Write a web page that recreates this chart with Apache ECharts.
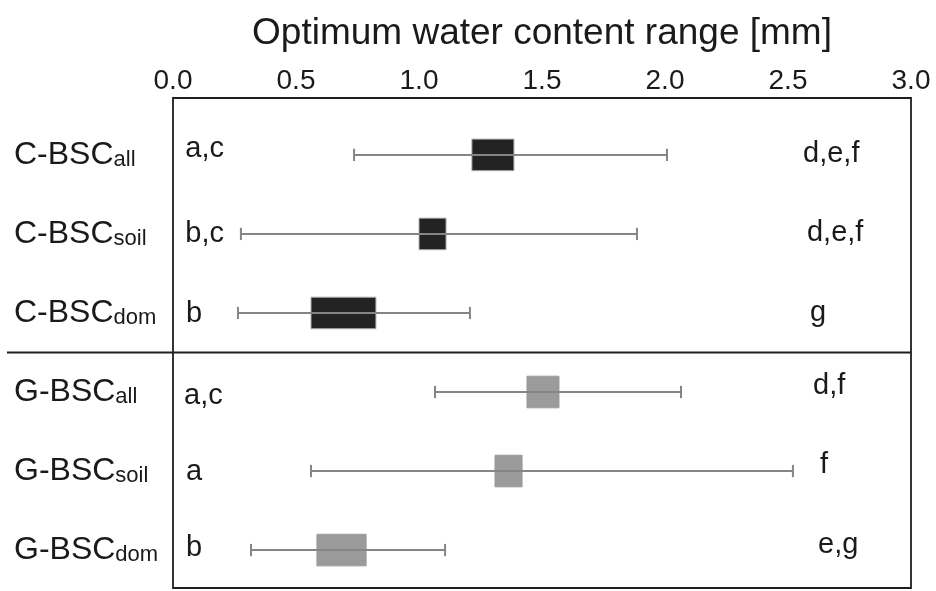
<!DOCTYPE html>
<html>
<head>
<meta charset="utf-8">
<script src="https://cdn.jsdelivr.net/npm/echarts@6/dist/echarts.min.js"></script>
<style>
html,body{margin:0;padding:0;background:#fff;}
#chart{width:936px;height:591px;}
</style>
</head>
<body>
<div id="chart"></div>
<script>
// ---- data ----
const rowMain = ['C-BSC','C-BSC','C-BSC','G-BSC','G-BSC','G-BSC'];
const rowSub  = ['all','soil','dom','all','soil','dom'];
const rowGroup = ['C','C','C','G','G','G'];
const whiskerMin = [0.736, 0.276, 0.264, 1.065, 0.561, 0.317];
const boxLow     = [1.215, 1.000, 0.561, 1.439, 1.309, 0.585];
const boxHigh    = [1.386, 1.110, 0.825, 1.569, 1.419, 0.785];
const whiskerMax = [2.008, 1.886, 1.207, 2.065, 2.520, 1.106];
const leftLetters  = ['a,c','b,c','b','a,c','a','b'];
const rightLetters = ['d,e,f','d,e,f','g','d,f','f','e,g'];
const xTicks = [0, 0.5, 1, 1.5, 2, 2.5, 3];

// ---- layout / style ----
const leftLetterX = [0.050, 0.050, 0.053, 0.045, 0.053, 0.053];
const leftLetterDy = [-0.07, 0, 0.01, 0.05, 0.01, -0.03];
const rightLetterX = [2.561, 2.577, 2.589, 2.602, 2.630, 2.622];
const rightLetterDy = [-0.01, -0.01, 0, -0.08, -0.08, -0.06];
const groupColor = {C: '#232323', G: '#9b9b9b'};
const groupStroke = {C: '#b0b0b0', G: '#9b9b9b'};
const FONT = "'Liberation Sans', Arial, Helvetica, sans-serif";

const boxData = rowMain.map((_, i) => [i, whiskerMin[i], boxLow[i], boxHigh[i], whiskerMax[i]]);
const letterData = [];
leftLetters.forEach((t, i) => letterData.push([leftLetterX[i], i + leftLetterDy[i], t]));
rightLetters.forEach((t, i) => letterData.push([rightLetterX[i], i + rightLetterDy[i], t]));

const chart = echarts.init(document.getElementById('chart'), null, {renderer: 'canvas'});
chart.setOption({
  animation: false,
  backgroundColor: '#fff',
  grid: {left: 173, right: 25, top: 98, bottom: 3, show: true, borderColor: '#1e1e1e', borderWidth: 1.8, containLabel: false},
  xAxis: {
    type: 'value', position: 'top', min: 0, max: 3, interval: 0.5,
    name: 'Optimum water content range [mm]', nameLocation: 'middle', nameGap: 46,
    nameTextStyle: {fontFamily: FONT, fontSize: 37, color: '#1a1a1a'},
    axisLine: {show: false}, axisTick: {show: false}, splitLine: {show: false},
    axisLabel: {fontFamily: FONT, fontSize: 28, color: '#1a1a1a', margin: 3,
      formatter: v => v.toFixed(1)}
  },
  yAxis: {
    type: 'value', inverse: true, min: -0.72, max: 5.48,
    axisLine: {show: false}, axisTick: {show: false}, splitLine: {show: false},
    axisLabel: {
      customValues: [0, 1, 2, 3, 4, 5],
      align: 'left', margin: 159,
      formatter: v => '{m|' + rowMain[Math.round(v)] + '}{s|' + rowSub[Math.round(v)] + '}',
      rich: {
        m: {fontFamily: FONT, fontSize: 32, color: '#1a1a1a', verticalAlign: 'bottom'},
        s: {fontFamily: FONT, fontSize: 22, color: '#1a1a1a', verticalAlign: 'bottom'}
      }
    }
  },
  series: [
    {
      type: 'custom',
      data: boxData,
      encode: {x: [1, 2, 3, 4], y: 0},
      renderItem: function (params, api) {
        const row = api.value(0);
        const g = rowGroup[row];
        const pMin = api.coord([api.value(1), row]);
        const pLo = api.coord([api.value(2), row]);
        const pHi = api.coord([api.value(3), row]);
        const pMax = api.coord([api.value(4), row]);
        const band = Math.abs(api.size([0, 1])[1]);
        const boxH = band * 0.4;
        const capH = band * 0.155;
        const y = pMin[1];
        const ls = {stroke: '#858585', lineWidth: 2};
        return {
          type: 'group',
          children: [
            {type: 'rect', shape: {x: pLo[0], y: y - boxH / 2, width: pHi[0] - pLo[0], height: boxH},
              style: {fill: groupColor[g], stroke: groupStroke[g], lineWidth: 1}},
            {type: 'line', shape: {x1: pMin[0], y1: y, x2: pMax[0], y2: y}, style: ls},
            {type: 'line', shape: {x1: pMin[0], y1: y - capH / 2, x2: pMin[0], y2: y + capH / 2}, style: ls},
            {type: 'line', shape: {x1: pMax[0], y1: y - capH / 2, x2: pMax[0], y2: y + capH / 2}, style: ls}
          ]
        };
      }
    },
    {
      type: 'custom',
      data: letterData,
      encode: {x: 0, y: 1},
      renderItem: function (params, api) {
        const p = api.coord([api.value(0), api.value(1)]);
        return {type: 'text', x: p[0], y: p[1],
          style: {text: letterData[params.dataIndex][2], fontFamily: FONT, fontSize: 29, fill: '#1a1a1a',
            align: 'left', verticalAlign: 'middle'}};
      }
    },
    {
      type: 'custom',
      clip: false,
      data: [[-0.675, 3, 2.5]],
      encode: {x: [0, 1], y: 2},
      renderItem: function (params, api) {
        const a = api.coord([api.value(0), api.value(2)]);
        const b = api.coord([api.value(1), api.value(2)]);
        return {type: 'line', shape: {x1: a[0], y1: a[1], x2: b[0], y2: b[1]},
          style: {stroke: '#1e1e1e', lineWidth: 1.8}};
      }
    }
  ]
});
</script>
</body>
</html>
